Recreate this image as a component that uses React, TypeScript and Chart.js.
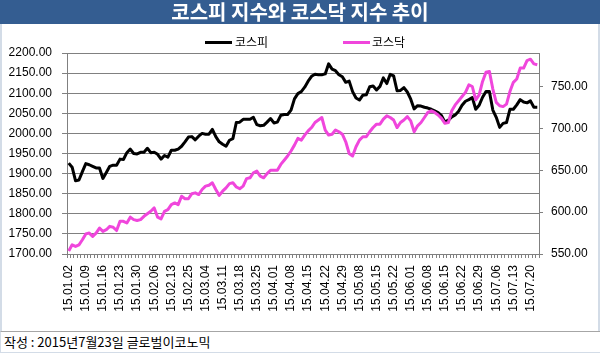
import React, { useEffect, useRef } from 'react';
import { Chart, registerables } from 'chart.js';

Chart.register(...registerables);

const TITLE = '코스피 지수와 코스닥 지수 추이';
const FOOTER = '작성 : 2015년7월23일 글로벌이코노믹';
const SERIES_NAMES = ['코스피', '코스닥'];

const dates = [
  '15.01.02', '15.01.05', '15.01.06', '15.01.07', '15.01.08', '15.01.09', '15.01.12', '15.01.13', '15.01.14', '15.01.15',
  '15.01.16', '15.01.19', '15.01.20', '15.01.21', '15.01.22', '15.01.23', '15.01.26', '15.01.27', '15.01.28', '15.01.29',
  '15.01.30', '15.02.02', '15.02.03', '15.02.04', '15.02.05', '15.02.06', '15.02.09', '15.02.10', '15.02.11', '15.02.12',
  '15.02.13', '15.02.16', '15.02.17', '15.02.23', '15.02.24', '15.02.25', '15.02.26', '15.02.27', '15.03.02', '15.03.03',
  '15.03.04', '15.03.05', '15.03.06', '15.03.09', '15.03.10', '15.03.11', '15.03.12', '15.03.13', '15.03.16', '15.03.17',
  '15.03.18', '15.03.19', '15.03.20', '15.03.23', '15.03.24', '15.03.25', '15.03.26', '15.03.27', '15.03.30', '15.03.31',
  '15.04.01', '15.04.02', '15.04.03', '15.04.06', '15.04.07', '15.04.08', '15.04.09', '15.04.10', '15.04.13', '15.04.14',
  '15.04.15', '15.04.16', '15.04.17', '15.04.20', '15.04.21', '15.04.22', '15.04.23', '15.04.24', '15.04.27', '15.04.28',
  '15.04.29', '15.04.30', '15.05.04', '15.05.06', '15.05.07', '15.05.08', '15.05.11', '15.05.12', '15.05.13', '15.05.14',
  '15.05.15', '15.05.18', '15.05.19', '15.05.20', '15.05.21', '15.05.22', '15.05.26', '15.05.27', '15.05.28', '15.05.29',
  '15.06.01', '15.06.02', '15.06.03', '15.06.04', '15.06.05', '15.06.08', '15.06.09', '15.06.10', '15.06.11', '15.06.12',
  '15.06.15', '15.06.16', '15.06.17', '15.06.18', '15.06.19', '15.06.22', '15.06.23', '15.06.24', '15.06.25', '15.06.26',
  '15.06.29', '15.06.30', '15.07.01', '15.07.02', '15.07.03', '15.07.06', '15.07.07', '15.07.08', '15.07.09', '15.07.10',
  '15.07.13', '15.07.14', '15.07.15', '15.07.16', '15.07.17', '15.07.20', '15.07.21', '15.07.22',
];

const kospi = [
  1926, 1916, 1882, 1884, 1905, 1925, 1922, 1918, 1914, 1914,
  1888, 1903, 1918, 1921, 1921, 1936, 1935, 1952, 1961, 1950,
  1949, 1953, 1953, 1963, 1952, 1953, 1948, 1936, 1945, 1941,
  1958, 1958, 1961, 1968, 1979, 1991, 1992, 1984, 1993, 2000,
  1998, 1998, 2010, 1992, 1979, 1973, 1968, 1983, 1987, 2027,
  2028, 2035, 2035, 2035, 2040, 2022, 2019, 2020, 2028, 2037,
  2026, 2028, 2045, 2047, 2047, 2058, 2086, 2099, 2104, 2115,
  2130, 2142, 2147, 2146, 2146, 2148, 2173, 2160, 2156, 2146,
  2141, 2127, 2130, 2104, 2088, 2083, 2095, 2096, 2116, 2118,
  2108, 2117, 2138, 2124, 2147, 2143, 2106, 2107, 2114, 2103,
  2085, 2061, 2069, 2068, 2065, 2063, 2060, 2056, 2052, 2044,
  2028, 2033, 2041, 2046, 2055, 2070, 2080, 2084, 2089, 2060,
  2070, 2090, 2104, 2104, 2058, 2040, 2015, 2025, 2027, 2060,
  2060, 2071, 2084, 2078, 2076, 2081, 2065, 2065,
];

const kosdaq = [
  553.7, 561, 559, 561, 567, 574, 575, 571, 575, 581,
  577, 579, 583, 582, 578, 589, 589, 587, 594, 591,
  590, 591, 595, 598, 601, 605, 594, 592, 601, 603,
  609, 611, 609, 619, 616, 616, 622, 623, 621, 627,
  631, 632, 635, 627, 620, 625, 629, 634, 635, 630,
  628, 631, 640, 641, 647, 649, 643, 641, 646, 650,
  650, 650, 657, 662, 667, 673, 680, 688, 686, 692,
  697, 701, 707, 710, 713, 698, 692, 693, 698, 696,
  693, 684, 670, 667, 678, 686, 690, 690, 696, 701,
  705, 705, 711, 715, 713, 710, 701, 707, 710, 714,
  709, 696, 703, 707, 713, 719, 721, 719, 716, 712,
  706, 707, 721, 728, 733, 738, 743, 752, 750, 734,
  740, 756, 767, 768, 747, 731, 727, 726, 729, 744,
  755, 759, 772, 772, 781, 782.6, 777, 776,
];

const leftTicks = [1700, 1750, 1800, 1850, 1900, 1950, 2000, 2050, 2100, 2150, 2200];
const rightTicks = [550, 600, 650, 700, 750];
const LEFT_MIN = 1700;
const LEFT_MAX = 2200;
const RIGHT_MIN = 550;
const RIGHT_MAX = 790;
const LABEL_EVERY = 5;

const BLACK = '#000000';
const PINK = '#F046DC';
const GRID = '#808080';
const TITLE_BG = '#345D91';
const FRAME = '#D3DCE7';
const TICK_FONT = "'Liberation Sans', 'Noto Sans CJK KR', sans-serif";
const KR_FONT = "'Noto Sans CJK KR', 'Liberation Sans', sans-serif";

export default function App() {
  const ref = useRef<HTMLCanvasElement>(null);

  useEffect(() => {
    const canvas = ref.current;
    if (!canvas) return;
    const chart = new Chart(canvas, {
      type: 'line',
      data: {
        labels: dates,
        datasets: [
          {
            label: SERIES_NAMES[0],
            data: kospi,
            borderColor: BLACK,
            backgroundColor: BLACK,
            borderWidth: 3,
            pointRadius: 0,
            tension: 0,
            borderJoinStyle: 'round',
            yAxisID: 'y',
            order: 1,
          },
          {
            label: SERIES_NAMES[1],
            data: kosdaq,
            borderColor: PINK,
            backgroundColor: PINK,
            borderWidth: 3,
            pointRadius: 0,
            tension: 0,
            borderJoinStyle: 'round',
            yAxisID: 'y1',
            order: 0,
          },
        ],
      },
      options: {
        responsive: false,
        animation: false,
        devicePixelRatio: 1,
        layout: { padding: { top: 53, left: 0, right: 0, bottom: 0 } },
        plugins: {
          legend: { display: false },
          title: { display: false },
          tooltip: { enabled: false },
        },
        scales: {
          x: {
            type: 'category',
            offset: true,
            grid: {
              offset: true,
              drawOnChartArea: false,
              drawTicks: true,
              tickLength: 4,
              color: GRID,
            },
            border: { color: GRID, width: 1 },
            ticks: {
              autoSkip: false,
              maxRotation: 90,
              minRotation: 90,
              padding: 7,
              color: '#000',
              font: { family: TICK_FONT, size: 12 },
              callback: (_v: any, i: number) => (i % LABEL_EVERY === 0 ? dates[i] : ''),
            },
            afterFit: (s: any) => {
              s.height = 99;
            },
          },
          y: {
            position: 'left',
            min: LEFT_MIN,
            max: LEFT_MAX,
            grid: { color: GRID, tickLength: 5, drawTicks: true },
            border: { color: GRID, width: 1 },
            ticks: {
              padding: 10,
              color: '#000',
              font: { family: TICK_FONT, size: 12 },
              callback: (v: any) => Number(v).toFixed(2),
            },
            afterBuildTicks: (s: any) => {
              s.ticks = leftTicks.map((value) => ({ value }));
            },
            afterFit: (s: any) => {
              s.width = 67;
            },
          },
          y1: {
            position: 'right',
            min: RIGHT_MIN,
            max: RIGHT_MAX,
            grid: { drawOnChartArea: false, tickLength: 4, drawTicks: true, color: GRID },
            border: { color: GRID, width: 1 },
            ticks: {
              padding: 8,
              color: '#000',
              font: { family: TICK_FONT, size: 12 },
              callback: (v: any) => Number(v).toFixed(2),
            },
            afterBuildTicks: (s: any) => {
              s.ticks = rightTicks.map((value) => ({ value }));
            },
            afterFit: (s: any) => {
              s.width = 61;
            },
          },
        },
      },
    });
    return () => chart.destroy();
  }, []);

  return (
    <div
      style={{
        position: 'absolute',
        left: 0,
        top: 0,
        width: 600,
        height: 353,
        background: '#fff',
        overflow: 'hidden',
        fontFamily: KR_FONT,
      }}
    >
      <canvas
        ref={ref}
        width={600}
        height={353}
        style={{ position: 'absolute', left: 0, top: 0, width: 600, height: 353 }}
      />
      <div
        style={{
          position: 'absolute',
          left: 0,
          top: 0,
          width: 600,
          height: 24,
          background: TITLE_BG,
          color: '#fff',
          fontWeight: 'bold',
          fontSize: 20,
          lineHeight: '24px',
          textAlign: 'center',
          fontFamily: KR_FONT,
        }}
      >
        {TITLE}
      </div>
      <div
        style={{
          position: 'absolute',
          left: 0,
          top: 24,
          width: 596,
          height: 307,
          borderLeft: `2px solid ${FRAME}`,
          borderRight: `2px solid ${FRAME}`,
          pointerEvents: 'none',
        }}
      />
      <div style={{ position: 'absolute', left: 205, top: 41, width: 27, height: 3, background: BLACK }} />
      <div
        style={{
          position: 'absolute',
          left: 235,
          top: 34,
          fontSize: 12,
          lineHeight: '16px',
          color: '#000',
          whiteSpace: 'nowrap',
        }}
      >
        {SERIES_NAMES[0]}
      </div>
      <div style={{ position: 'absolute', left: 343, top: 41, width: 27, height: 3, background: PINK }} />
      <div
        style={{
          position: 'absolute',
          left: 372,
          top: 34,
          fontSize: 12,
          lineHeight: '16px',
          color: '#000',
          whiteSpace: 'nowrap',
        }}
      >
        {SERIES_NAMES[1]}
      </div>
      <div
        style={{
          position: 'absolute',
          left: 0,
          top: 331,
          width: 598,
          height: 20,
          borderTop: '1px solid #A6A6A6',
          borderLeft: `1px solid ${FRAME}`,
          borderRight: `1px solid ${FRAME}`,
          borderBottom: `1px solid ${FRAME}`,
          background: '#fff',
          fontSize: 13,
          lineHeight: '20px',
          paddingLeft: 3,
          boxSizing: 'content-box',
          color: '#000',
          whiteSpace: 'nowrap',
        }}
      >
        {FOOTER}
      </div>
    </div>
  );
}
